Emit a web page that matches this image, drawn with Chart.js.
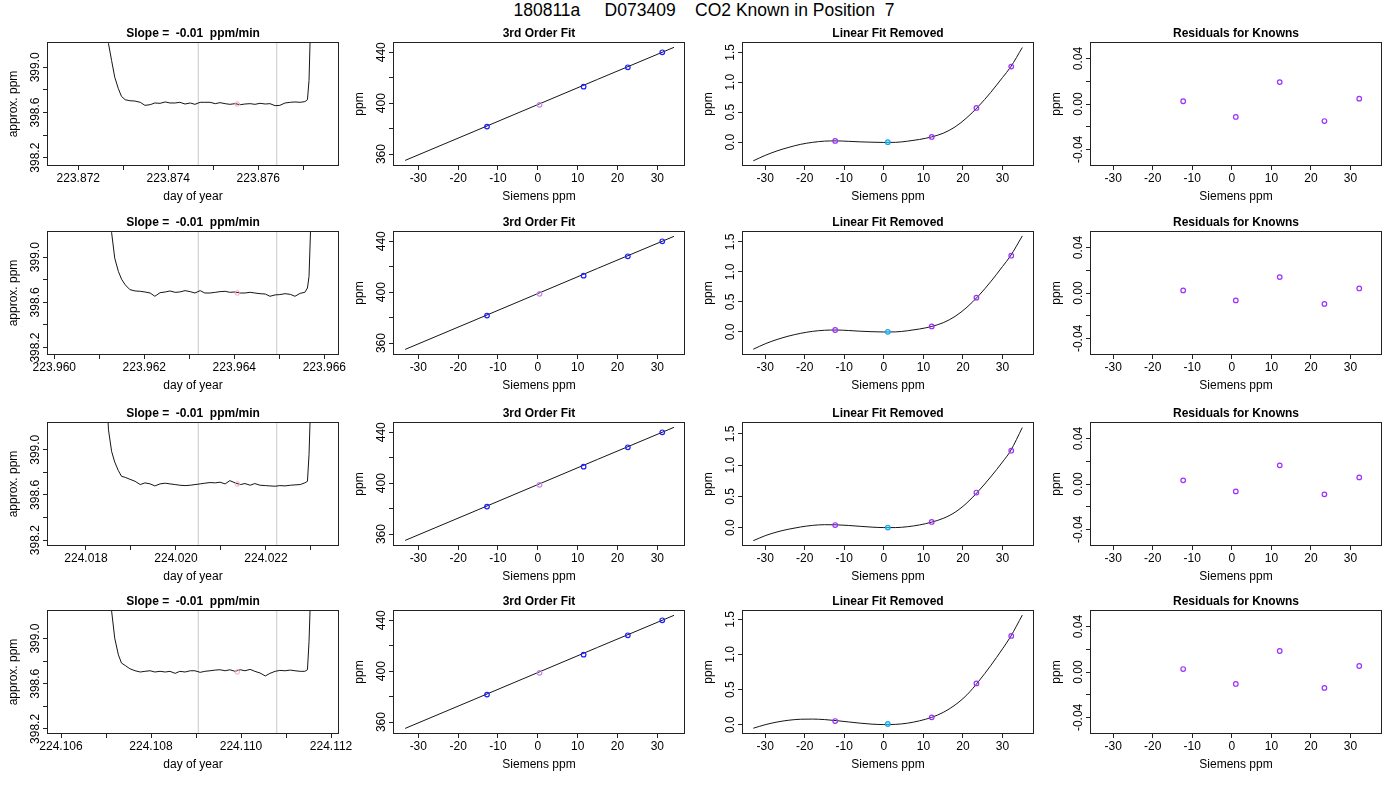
<!DOCTYPE html>
<html><head><meta charset="utf-8">
<script src="https://cdn.jsdelivr.net/npm/chart.js@4.4.1/dist/chart.umd.min.js"></script>
<style>
html,body{margin:0;padding:0;background:#fff;}
#wrap{position:relative;width:1400px;height:800px;overflow:hidden;background:#fff;}
#main{position:absolute;left:704px;top:2px;transform:translateX(-50%);font-family:"Liberation Sans",Arial,sans-serif;font-size:17.5px;line-height:17.5px;white-space:pre;color:#000;}
canvas{position:absolute;}
</style></head>
<body><div id="wrap"><div id="main"></div></div>
<script>
// ---------------- text ----------------
const mainTitle = '180811a     D073409    CO2 Known in Position  7';
const panelTitles = ['Slope =  -0.01  ppm/min', '3rd Order Fit', 'Linear Fit Removed', 'Residuals for Knowns'];
const xTitles = ['day of year', 'Siemens ppm', 'Siemens ppm', 'Siemens ppm'];
const yTitles = ['approx. ppm', 'ppm', 'ppm', 'ppm'];

// ---------------- column 1: analyser trace ----------------
const SEC_PER_DAY = 86400;
const sampleSec = [0,60,80,89,96,102,108,115,121,
  128,137,147,157,166,176,185,195,205,214,224,233,243,253,262,272,281,291,301,310,320,329,339,349,358,368,377,387,397,406,416,425,435,445,454,464,473,
  478,481,484,487,517];
const cycleStartDay = [223.871560, 223.960093, 224.017389, 224.105944];
const ppmTrace1 = [415,402,400.0,399.45,399.21,399.059,398.912,398.810,398.742,
  398.713,398.704,398.701,398.690,398.663,398.669,398.684,398.681,398.693,398.684,398.684,398.690,398.675,398.684,398.672,398.690,398.690,398.690,398.678,398.687,398.678,398.672,398.678,398.669,398.675,398.678,398.672,398.681,398.675,398.678,398.660,398.663,398.684,398.690,398.693,398.690,398.696,
  398.713,398.883,399.4,401,420];
const ppmTrace2 = [420,405,401,400.0,399.6,399.217,398.991,398.874,398.806,
  398.756,398.713,398.701,398.698,398.692,398.683,398.654,398.686,398.692,398.701,398.689,398.692,398.704,398.695,398.683,398.704,398.683,398.683,398.689,398.695,398.698,398.689,398.692,398.683,398.683,398.689,398.683,398.677,398.674,398.654,398.666,398.669,398.677,398.671,398.654,398.680,398.689,
  398.727,398.830,399.25,400.5,420];
const ppmTrace3 = [415,402,400.5,399.8,399.176,398.985,398.891,398.815,398.765,
  398.756,398.739,398.721,398.692,398.707,398.698,398.680,398.698,398.704,398.698,398.692,398.686,398.683,398.686,398.692,398.698,398.704,398.710,398.707,398.713,398.698,398.727,398.707,398.692,398.701,398.686,398.701,398.686,398.683,398.680,398.677,398.683,398.680,398.686,398.689,398.692,398.707,
  398.721,398.956,399.4,401,420];
const ppmTrace4 = [420,405,401,400.0,399.6,399.243,399.003,398.856,398.783,
  398.762,398.733,398.715,398.704,398.710,398.715,398.704,398.710,398.704,398.710,398.692,398.710,398.704,398.715,398.715,398.701,398.710,398.715,398.721,398.724,398.715,398.724,398.710,398.724,398.715,398.727,398.710,398.695,398.669,398.692,398.710,398.718,398.715,398.721,398.715,398.710,398.710,
  398.724,398.973,399.4,401,420];
const windowStartDay = [223.874666, 223.963199, 224.020495, 224.109050];
const windowEndDay   = [223.876410, 223.964943, 224.022239, 224.110794];
const meanDay = [223.875533, 223.964066, 224.021362, 224.109917];
const meanPpm = [398.675, 398.683, 398.697, 398.704];
const dayAxisMin = [223.871327, 223.959860, 224.017156, 224.105711];
const dayAxisMax = [223.877771, 223.966304, 224.023600, 224.112155];
const ppmAxisMin = [398.135, 398.143, 398.157, 398.164];
const ppmAxisMax = [399.215, 399.223, 399.237, 399.244];
const dayTicks = [
  [223.872, 223.873, 223.874, 223.875, 223.876, 223.877],
  [223.960, 223.961, 223.962, 223.963, 223.964, 223.965, 223.966],
  [224.018, 224.019, 224.020, 224.021, 224.022, 224.023],
  [224.106, 224.107, 224.108, 224.109, 224.110, 224.111, 224.112]];
const dayTickLabels = [
  ['223.872','','223.874','','223.876',''],
  ['223.960','','223.962','','223.964','','223.966'],
  ['224.018','','224.020','','224.022',''],
  ['224.106','','224.108','','224.110','','224.112']];
const ppmTicks = [398.2, 398.4, 398.6, 398.8, 399.0];
const ppmTickLabels = ['398.2', '', '398.6', '', '399.0'];

// ---------------- column 2: 3rd order fit ----------------
const fitSiemens = [-12.75, 0.43, 11.5, 22.6, 31.25];
const fitPpm = [
  [381.6, 398.68, 413.0, 428.2, 440.0],
  [381.6, 398.68, 413.0, 428.2, 440.0],
  [381.6, 398.70, 413.0, 428.2, 440.0],
  [381.6, 398.70, 413.0, 428.2, 440.0]];
const fitLineX = [-33.3, -15, 0, 15, 34.2];
const fitLineY = [355.0, 379.1, 398.9, 418.7, 443.9];
const fitColors = ['#1f1fff', '#c58ae8', '#1f1fff', '#1f1fff', '#1f1fff'];
const fitXMin = -36.1, fitXMax = 36.7, fitYMin = 351.4, fitYMax = 447.3;
const fitYTicks = [360, 380, 400, 420, 440];
const fitYTickLabels = ['360', '', '400', '', '440'];

// ---------------- column 3: linear fit removed ----------------
const knownSiemens = [-12.3, 1.0, 12.1, 23.4, 32.2];
const linRemoved = [
  [0.022, 0.0, 0.088, 0.572, 1.261],
  [0.030, 0.0, 0.090, 0.570, 1.270],
  [0.040, 0.0, 0.090, 0.560, 1.230],
  [0.052, 0.010, 0.105, 0.588, 1.264]];
const curveX = [-33,-30,-27,-24,-21,-18,-15,-12,-9,-6,-3,0,3,6,9,12,15,18,21,24,27,30,32,35];
const curveY = [
  [-0.31,-0.22,-0.145,-0.085,-0.035,-0.002,0.018,0.022,0.015,0.006,0.0,-0.004,-0.002,0.017,0.046,0.087,0.15,0.255,0.41,0.605,0.83,1.08,1.25,1.58],
  [-0.29,-0.20,-0.128,-0.07,-0.025,0.008,0.026,0.03,0.022,0.01,0.002,-0.003,-0.001,0.018,0.047,0.088,0.152,0.257,0.41,0.605,0.835,1.09,1.265,1.60],
  [-0.21,-0.13,-0.07,-0.025,0.01,0.035,0.046,0.044,0.034,0.02,0.007,0.0,0.0,0.014,0.042,0.085,0.147,0.245,0.395,0.59,0.81,1.05,1.225,1.60],
  [-0.05,0.0,0.038,0.064,0.078,0.08,0.073,0.058,0.04,0.022,0.008,0.002,0.005,0.022,0.055,0.103,0.175,0.28,0.425,0.62,0.84,1.08,1.25,1.56]];
const linYMin = [-0.38, -0.37, -0.279, -0.118];
const linYMax = [1.655, 1.665, 1.673, 1.618];
const linYTicks = [0, 0.5, 1.0, 1.5];
const linYTickLabels = ['0.0', '0.5', '1.0', '1.5'];
const linBorder = ['#9b30ff', '#1aa8f0', '#9b30ff', '#9b30ff', '#9b30ff'];
const linFill = ['rgba(0,0,0,0)', 'rgba(60,230,255,0.55)', 'rgba(0,0,0,0)', 'rgba(0,0,0,0)', 'rgba(0,0,0,0)'];

// ---------------- column 4: residuals ----------------
const residuals = [
  [0.0024, -0.0114, 0.0193, -0.0150, 0.0047],
  [0.0023, -0.0065, 0.0140, -0.0096, 0.0040],
  [0.0032, -0.0065, 0.0164, -0.0091, 0.0058],
  [0.0026, -0.0105, 0.0185, -0.0140, 0.0053]];
const resYMin = -0.0537, resYMax = 0.0537;
const resYTicks = [-0.04, -0.02, 0, 0.02, 0.04];
const resYTickLabels = ['-0.04', '', '0.00', '', '0.04'];
const sieXMin = -35.6, sieXMax = 37.7;
const sieTicks = [-30, -20, -10, 0, 10, 20, 30];
const sieTickLabels = ['-30', '-20', '-10', '0', '10', '20', '30'];

// ---------------- layout ----------------
const FONT = '"Liberation Sans", Arial, Helvetica, sans-serif';
const COLS = [48, 394, 743, 1091], ROWS = [43, 232, 423, 611], PW = 290, PH = 122;
const PAD = {left: 50, top: 40, right: 28, bottom: 48};
const wrap = document.getElementById('wrap');
document.getElementById('main').textContent = mainTitle;

function rPlugin(cfg) {
  return {
    id: 'rstyle',
    afterDraw(chart) {
      const ctx = chart.ctx, a = chart.chartArea, ys = chart.scales.y;
      ctx.save();
      ctx.strokeStyle = '#222'; ctx.lineWidth = 1;
      ctx.strokeRect(Math.round(a.left) - 0.5, Math.round(a.top) - 0.5,
                     Math.round(a.right - a.left) + 1, Math.round(a.bottom - a.top) + 1);
      ctx.fillStyle = '#000';
      ctx.font = '12px ' + FONT;
      ctx.textAlign = 'center'; ctx.textBaseline = 'alphabetic';
      cfg.yTicks.forEach((v, i) => {
        const lab = cfg.yLabels[i];
        if (!lab) return;
        ctx.save();
        ctx.translate(a.left - 9.5, ys.getPixelForValue(v));
        ctx.rotate(-Math.PI / 2);
        ctx.fillText(lab, 0, 0);
        ctx.restore();
      });
      ctx.save();
      ctx.translate(a.left - 31, (a.top + a.bottom) / 2);
      ctx.rotate(-Math.PI / 2);
      ctx.fillText(cfg.yTitle, 0, 0);
      ctx.restore();
      ctx.fillText(cfg.xTitle, (a.left + a.right) / 2, a.bottom + 35);
      ctx.font = 'bold 12px ' + FONT;
      ctx.fillText(cfg.title, (a.left + a.right) / 2, a.top - 6.5);
      ctx.restore();
    }
  };
}

function zeroPad(s) { s.paddingLeft = 0; s.paddingRight = 0; s.paddingTop = 0; s.paddingBottom = 0; }

function makePanel(r, c, datasets, xs, ys) {
  const cv = document.createElement('canvas');
  const W = PAD.left + PW + PAD.right, H = PAD.top + PH + PAD.bottom;
  cv.width = W; cv.height = H;
  cv.style.left = (COLS[c] - PAD.left) + 'px';
  cv.style.top = (ROWS[r] - PAD.top) + 'px';
  cv.style.width = W + 'px'; cv.style.height = H + 'px';
  wrap.appendChild(cv);
  new Chart(cv, {
    type: 'scatter',
    data: {datasets},
    options: {
      responsive: false, animation: false, events: [],
      layout: {padding: {left: PAD.left, top: PAD.top, right: PAD.right, bottom: 0}},
      plugins: {legend: {display: false}, tooltip: {enabled: false}, title: {display: false}},
      scales: {
        x: {
          type: 'linear', position: 'bottom', bounds: 'data', min: xs.min, max: xs.max,
          afterBuildTicks: s => { s.ticks = xs.ticks.map(v => ({value: v})); },
          afterFit: s => { s.height = PAD.bottom; zeroPad(s); },
          grid: {display: true, drawOnChartArea: false, drawTicks: true, tickLength: 5, color: '#222', lineWidth: 1},
          border: {display: false},
          ticks: {autoSkip: false, maxRotation: 0, minRotation: 0, padding: 1.5, color: '#000',
                  font: {family: FONT, size: 12}, callback: (v, i) => xs.labels[i]}
        },
        y: {
          type: 'linear', position: 'left', bounds: 'data', min: ys.min, max: ys.max,
          afterBuildTicks: s => { s.ticks = ys.ticks.map(v => ({value: v})); },
          afterFit: s => { s.width = 0; zeroPad(s); },
          grid: {display: true, drawOnChartArea: false, drawTicks: true, tickLength: 5, color: '#222', lineWidth: 1},
          border: {display: false},
          ticks: {display: false}
        }
      }
    },
    plugins: [rPlugin({yTicks: ys.ticks, yLabels: ys.labels, yTitle: yTitles[c], xTitle: xTitles[c], title: panelTitles[c]})]
  });
}

function pts(xArr, yArr) { return xArr.map((x, i) => ({x, y: yArr[i]})); }

const traces = [ppmTrace1, ppmTrace2, ppmTrace3, ppmTrace4];
for (let r = 0; r < 4; r++) {
  // column 1
  const trace = sampleSec.map((s, i) => ({x: cycleStartDay[r] + s / SEC_PER_DAY, y: traces[r][i]}));
  makePanel(r, 0, [
    {data: [{x: meanDay[r], y: meanPpm[r]}], pointStyle: 'circle', pointRadius: 2.2, pointBorderWidth: 1,
     pointBorderColor: '#f7a3b5', pointBackgroundColor: 'rgba(0,0,0,0)', showLine: false},
    {data: trace, showLine: true, borderColor: '#151515', borderWidth: 1, pointRadius: 0, tension: 0},
    {data: [{x: windowStartDay[r], y: ppmAxisMin[r]}, {x: windowStartDay[r], y: ppmAxisMax[r]}],
     showLine: true, borderColor: '#c9c9c9', borderWidth: 1, pointRadius: 0},
    {data: [{x: windowEndDay[r], y: ppmAxisMin[r]}, {x: windowEndDay[r], y: ppmAxisMax[r]}],
     showLine: true, borderColor: '#c9c9c9', borderWidth: 1, pointRadius: 0}
  ], {min: dayAxisMin[r], max: dayAxisMax[r], ticks: dayTicks[r], labels: dayTickLabels[r]},
     {min: ppmAxisMin[r], max: ppmAxisMax[r], ticks: ppmTicks, labels: ppmTickLabels});

  // column 2
  makePanel(r, 1, [
    {data: pts(fitSiemens, fitPpm[r]), pointStyle: 'circle', pointRadius: 2.3, pointBorderWidth: 1.2,
     pointBorderColor: fitColors, pointBackgroundColor: 'rgba(0,0,0,0)', showLine: false},
    {data: pts(fitLineX, fitLineY), showLine: true, borderColor: '#151515', borderWidth: 1, pointRadius: 0}
  ], {min: fitXMin, max: fitXMax, ticks: sieTicks, labels: sieTickLabels},
     {min: fitYMin, max: fitYMax, ticks: fitYTicks, labels: fitYTickLabels});

  // column 3
  makePanel(r, 2, [
    {data: pts(knownSiemens, linRemoved[r]), pointStyle: 'circle', pointRadius: 2.3, pointBorderWidth: 1.2,
     pointBorderColor: linBorder, pointBackgroundColor: linFill, showLine: false},
    {data: pts(curveX, curveY[r]), showLine: true, borderColor: '#151515', borderWidth: 1, pointRadius: 0,
     cubicInterpolationMode: 'monotone'}
  ], {min: sieXMin, max: sieXMax, ticks: sieTicks, labels: sieTickLabels},
     {min: linYMin[r], max: linYMax[r], ticks: linYTicks, labels: linYTickLabels});

  // column 4
  makePanel(r, 3, [
    {data: pts(knownSiemens, residuals[r]), pointStyle: 'circle', pointRadius: 2.3, pointBorderWidth: 1.2,
     pointBorderColor: '#9b30ff', pointBackgroundColor: 'rgba(0,0,0,0)', showLine: false}
  ], {min: sieXMin, max: sieXMax, ticks: sieTicks, labels: sieTickLabels},
     {min: resYMin, max: resYMax, ticks: resYTicks, labels: resYTickLabels});
}
</script>
</body></html>
